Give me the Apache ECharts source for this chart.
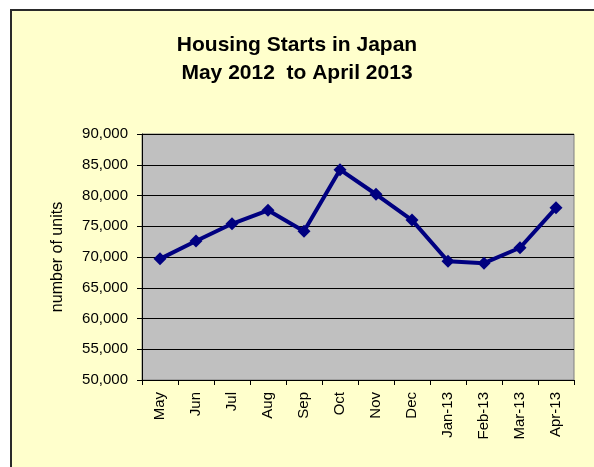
<!DOCTYPE html>
<html>
<head>
<meta charset="utf-8">
<script src="https://cdn.jsdelivr.net/npm/echarts@6/dist/echarts.min.js"></script>
<style>
  html, body { margin: 0; padding: 0; background: #fff; }
</style>
</head>
<body>
<div id="main" style="width: 594px; height: 467px;"></div>
<script>
// months May 2012 - April 2013
var months = ['May', 'Jun', 'Jul', 'Aug', 'Sep', 'Oct', 'Nov', 'Dec', 'Jan-13', 'Feb-13', 'Mar-13', 'Apr-13'];
// housing starts, units
var starts = [69700, 72600, 75400, 77600, 74200, 84200, 80200, 76000, 69300, 69000, 71500, 78000];
var titleLines = ['Housing Starts in Japan', 'May 2012  to April 2013'];
var yName = 'number of units';

var font = 'Arial, "Liberation Sans", sans-serif';
var myChart = echarts.init(document.getElementById('main'));

var option = {
  backgroundColor: '#fff',
  animation: false,
  graphic: [{
    type: 'rect',
    z: -10,
    shape: { x: 11, y: 10, width: 620, height: 520 },
    style: { fill: '#FFFFCC', stroke: '#2a2a2a', lineWidth: 2 }
  }],
  title: {
    text: titleLines.join('\n'),
    left: 'center',
    top: 26,
    textStyle: {
      fontFamily: font,
      fontSize: 21,
      fontWeight: 'bold',
      color: '#000',
      lineHeight: 28
    }
  },
  grid: {
    left: 142,
    right: 20,
    top: 134,
    bottom: 87,
    show: true,
    backgroundColor: '#C0C0C0',
    borderColor: '#808080',
    borderWidth: 1
  },
  xAxis: {
    type: 'category',
    data: months,
    boundaryGap: true,
    axisLine: { lineStyle: { color: '#000', width: 1 } },
    axisTick: { show: true, length: 5, alignWithLabel: false, lineStyle: { color: '#000' } },
    axisLabel: {
      interval: 0,
      rotate: 90,
      margin: 12,
      fontFamily: font,
      fontSize: 15,
      color: '#000'
    }
  },
  yAxis: {
    type: 'value',
    min: 50000,
    max: 90000,
    interval: 5000,
    name: yName,
    nameLocation: 'middle',
    nameGap: 76,
    nameTextStyle: { fontFamily: font, fontSize: 16, color: '#000' },
    axisLine: { show: true, lineStyle: { color: '#000', width: 1 } },
    axisTick: { show: true, length: 5, lineStyle: { color: '#000' } },
    axisLabel: {
      margin: 14,
      fontFamily: font,
      fontSize: 15,
      color: '#000',
      formatter: function (v) { return v.toLocaleString('en-US'); }
    },
    splitLine: { show: true, lineStyle: { color: '#000', width: 1 } }
  },
  series: [{
    type: 'line',
    data: starts,
    symbol: 'diamond',
    symbolSize: 13,
    lineStyle: { color: '#000080', width: 4 },
    itemStyle: { color: '#000080' }
  }]
};

myChart.setOption(option);
</script>
</body>
</html>
